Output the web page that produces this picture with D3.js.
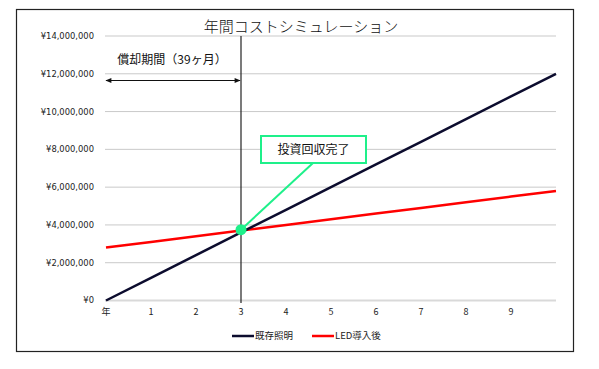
<!DOCTYPE html>
<html>
<head>
<meta charset="utf-8">
<script src="https://cdn.jsdelivr.net/npm/d3@7"></script>
<style>
  body { margin: 0; background: #fff; }
  text { font-family: "Noto Sans CJK JP", "DejaVu Sans", sans-serif; }
</style>
</head>
<body>
<svg id="chart" width="599" height="369"></svg>
<script>
// categories on the x axis (last slot has no label)
const years = [0, 1, 2, 3, 4, 5, 6, 7, 8, 9, 10];
const yearLabels = ['年', '1', '2', '3', '4', '5', '6', '7', '8', '9', ''];
// cumulative costs (yen)
const existing = [0, 1200000, 2400000, 3600000, 4800000, 6000000, 7200000, 8400000, 9600000, 10800000, 12000000];
const led = [2800000, 3100000, 3400000, 3700000, 4000000, 4300000, 4600000, 4900000, 5200000, 5500000, 5800000];
const yTicks = [0, 2000000, 4000000, 6000000, 8000000, 10000000, 12000000, 14000000];
const payback = { year: 3, value: 3750000 };
const seriesNames = ['既存照明', 'LED導入後'];

const svg = d3.select('#chart');

// outer frame
svg.append('rect')
  .attr('x', 16.5).attr('y', 9.5)
  .attr('width', 557).attr('height', 342)
  .attr('fill', '#fff').attr('stroke', '#222').attr('stroke-width', 1.2);

const x = d3.scaleLinear().domain([0, 10]).range([106, 556]);
const y = d3.scaleLinear().domain([0, 14000000]).range([300.5, 36]);

// gridlines
svg.append('g')
  .selectAll('line')
  .data(yTicks)
  .join('line')
  .attr('x1', 105).attr('x2', 556)
  .attr('y1', d => y(d)).attr('y2', d => y(d))
  .attr('stroke', d => d === 0 ? '#d9d9d9' : '#c9c9c9')
  .attr('stroke-width', d => d === 0 ? 2 : 1);

// y axis labels
const yen = d3.format(',');
svg.append('g')
  .selectAll('text')
  .data(yTicks)
  .join('text')
  .attr('x', 94).attr('y', d => y(d))
  .attr('dy', '0.35em')
  .attr('text-anchor', 'end')
  .style('font-family', '"DejaVu Sans", sans-serif')
  .attr('font-size', 8.4)
  .attr('fill', '#222')
  .text(d => '¥' + yen(d));

// x axis labels
svg.append('g')
  .selectAll('text')
  .data(years)
  .join('text')
  .attr('x', d => x(d)).attr('y', 312)
  .attr('dy', '0.35em')
  .attr('text-anchor', 'middle')
  .attr('font-size', 9)
  .attr('fill', '#222')
  .text((d, i) => yearLabels[i]);

// payback vertical line
svg.append('line')
  .attr('x1', x(payback.year)).attr('x2', x(payback.year))
  .attr('y1', y(14000000)).attr('y2', 303)
  .attr('stroke', '#222').attr('stroke-width', 1.2);

// series lines
const line = d3.line().x((d, i) => x(years[i])).y(d => y(d));
svg.append('path').datum(led)
  .attr('d', line).attr('fill', 'none')
  .attr('stroke', '#ff0000').attr('stroke-width', 2.5);
svg.append('path').datum(existing)
  .attr('d', line).attr('fill', 'none')
  .attr('stroke', '#0c0c2e').attr('stroke-width', 2.5);

// title
svg.append('text')
  .attr('x', 301).attr('y', 27)
  .attr('dy', '0.35em')
  .attr('text-anchor', 'middle')
  .attr('font-size', 15)
  .attr('font-weight', 300)
  .attr('fill', '#111')
  .text('年間コストシミュレーション');

// double arrow for payback period
const defs = svg.append('defs');
defs.append('marker')
  .attr('id', 'arr').attr('viewBox', '0 0 10 10')
  .attr('refX', 9).attr('refY', 5)
  .attr('markerWidth', 7).attr('markerHeight', 6)
  .attr('orient', 'auto-start-reverse')
  .append('path').attr('d', 'M0,1 L10,5 L0,9 Z').attr('fill', '#111');
svg.append('line')
  .attr('x1', x(0)).attr('x2', x(payback.year) - 1)
  .attr('y1', 80.5).attr('y2', 80.5)
  .attr('stroke', '#111').attr('stroke-width', 1)
  .attr('marker-start', 'url(#arr)').attr('marker-end', 'url(#arr)');
svg.append('text')
  .attr('x', 172).attr('y', 60)
  .attr('dy', '0.35em')
  .attr('text-anchor', 'middle')
  .attr('font-size', 12)
  .attr('fill', '#111')
  .text('償却期間（39ヶ月）');

// callout
const green = '#1ef08a';
svg.append('line')
  .attr('x1', x(payback.year)).attr('y1', y(payback.value))
  .attr('x2', 313).attr('y2', 163)
  .attr('stroke', green).attr('stroke-width', 2);
svg.append('rect')
  .attr('x', 261).attr('y', 136)
  .attr('width', 105).attr('height', 27)
  .attr('fill', '#fff').attr('stroke', green).attr('stroke-width', 2);
svg.append('text')
  .attr('x', 313.5).attr('y', 149.5)
  .attr('dy', '0.35em')
  .attr('text-anchor', 'middle')
  .attr('font-size', 12)
  .attr('fill', '#111')
  .text('投資回収完了');
svg.append('circle')
  .attr('cx', x(payback.year)).attr('cy', y(payback.value))
  .attr('r', 5.5).attr('fill', green);

// legend
const legend = svg.append('g').attr('transform', 'translate(232,336)');
const legendColors = ['#0c0c2e', '#ff0000'];
const lg = legend.selectAll('g')
  .data(seriesNames)
  .join('g')
  .attr('transform', (d, i) => `translate(${i * 80},0)`);
lg.append('line')
  .attr('x1', 0).attr('x2', 22).attr('y1', 0).attr('y2', 0)
  .attr('stroke', (d, i) => legendColors[i]).attr('stroke-width', 2.5);
lg.append('text')
  .attr('x', 23).attr('dy', '0.35em')
  .attr('font-size', 9.5).attr('fill', '#222')
  .text(d => d);
</script>
</body>
</html>
